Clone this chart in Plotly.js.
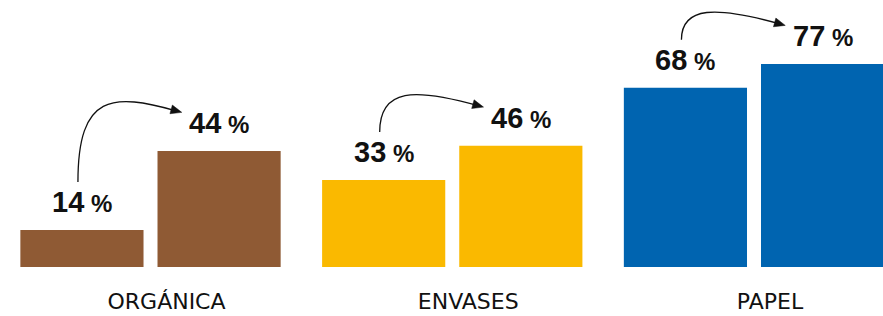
<!DOCTYPE html>
<html>
<head>
<meta charset="utf-8">
<script src="https://cdn.plot.ly/plotly-3.0.1.min.js"></script>
<style>html,body{margin:0;padding:0;background:#fff;}#chart{width:883px;height:316px;}</style>
</head>
<body>
<div id="chart"></div>
<script>
// ---- data ----
const categories = ['ORGÁNICA', 'ENVASES', 'PAPEL'];
const valuesBefore = [14, 33, 68];
const valuesAfter = [44, 46, 77];
const barColors = ['#8f5a34', '#fab900', '#0064b0'];

// ---- layout constants ----
const W = 883, H = 316;
const marginB = 49;
const plotH = H - marginB;
const yMax = 101.3;
const ppu = plotH / yMax;            // pixels per % unit
const xRange = [-0.4988, 2.4275];
const pxPerCat = W / (xRange[1] - xRange[0]);
const bargap = 0.091, bargroupgap = 0.102;
const halfOff = (1 - bargap) / 4 * pxPerCat; // px from category centre to bar centre

const numFont = 'Liberation Sans Narrow, Liberation Sans, Arial, sans-serif';

function label(v) {
  return '<b>' + v + '</b><span style="font-size:24px;font-weight:600"> %</span>';
}

const annotations = [];
const shapes = [];
categories.forEach((c, i) => {
  [[valuesBefore[i], -halfOff], [valuesAfter[i], halfOff]].forEach(([v, sh]) => {
    annotations.push({
      x: i, y: v, xref: 'x', yref: 'y', xshift: sh, yshift: 10,
      yanchor: 'bottom', xanchor: 'center', showarrow: false,
      text: label(v), font: {family: numFont, size: 29, color: '#111'}
    });
  });
  // curved arrow (pixel offsets relative to left bar top)
  const sx = -halfOff - 4, sy = 48;
  const ex = -halfOff + 95, ey = (valuesAfter[i] - valuesBefore[i]) * ppu + 40;
  const dx = ex - sx;
  const hy = ey + 18;
  const p1x = sx, p1y = hy, p2x = sx + 0.35 * dx, p2y = hy;
  shapes.push({
    type: 'path', xref: 'x', yref: 'y', xsizemode: 'pixel', ysizemode: 'pixel',
    xanchor: i, yanchor: valuesBefore[i],
    path: `M${sx},${sy} C${p1x},${p1y} ${p2x},${p2y} ${ex},${ey}`,
    line: {color: '#111', width: 1.3}
  });
  let tx = ex - p2x, ty = ey - p2y;
  const len = Math.hypot(tx, ty); tx /= len; ty /= len;
  const px = -ty, py = tx;
  const tipX = ex + tx * 5, tipY = ey + ty * 5;
  const bx = ex - tx * 6, by = ey - ty * 6;
  shapes.push({
    type: 'path', xref: 'x', yref: 'y', xsizemode: 'pixel', ysizemode: 'pixel',
    xanchor: i, yanchor: valuesBefore[i],
    path: `M${tipX},${tipY} L${bx + px * 4.5},${by + py * 4.5} L${bx - px * 4.5},${by - py * 4.5} Z`,
    fillcolor: '#111', line: {color: '#111', width: 0.5}
  });
});

const traces = [
  {type: 'bar', x: categories, y: valuesBefore, marker: {color: barColors}, hoverinfo: 'skip'},
  {type: 'bar', x: categories, y: valuesAfter, marker: {color: barColors}, hoverinfo: 'skip'}
];

const layout = {
  width: W, height: H,
  margin: {l: 0, r: 0, t: 0, b: marginB, pad: 0},
  paper_bgcolor: '#fff', plot_bgcolor: '#fff',
  barmode: 'group', bargap: bargap, bargroupgap: bargroupgap,
  showlegend: false,
  xaxis: {
    range: xRange, showgrid: false, zeroline: false, showline: false, ticks: '',
    tickfont: {family: 'DejaVu Sans, sans-serif', size: 22, color: '#111'},
    ticklabelshift: 16, ticklabelstandoff: 19, fixedrange: true
  },
  yaxis: {range: [0, yMax], visible: false, fixedrange: true},
  annotations: annotations,
  shapes: shapes
};

Plotly.newPlot('chart', traces, layout, {displayModeBar: false, staticPlot: true});
</script>
</body>
</html>
